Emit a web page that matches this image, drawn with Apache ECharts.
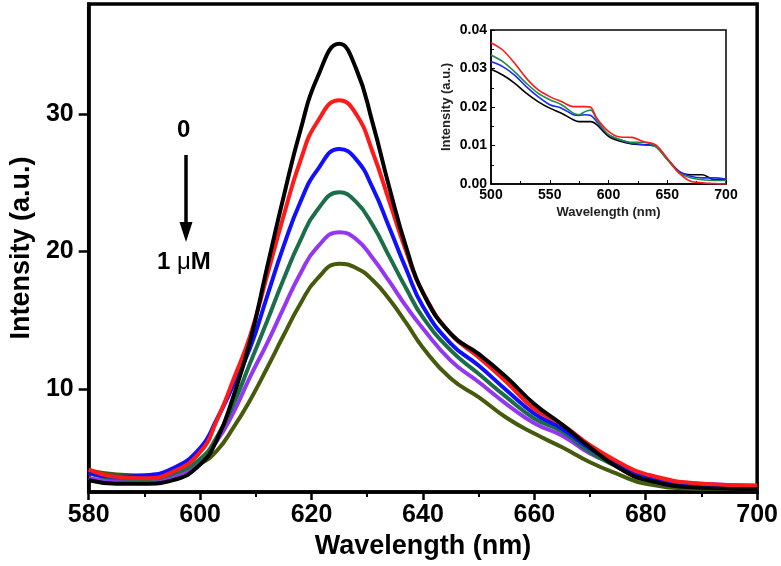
<!DOCTYPE html>
<html>
<head>
<meta charset="utf-8">
<script src="https://cdn.jsdelivr.net/npm/echarts@6/dist/echarts.min.js"></script>
<style>
  html, body { margin: 0; padding: 0; background: #fff; }
  #chart { width: 781px; height: 566px; }
</style>
</head>
<body>
<div id="chart"></div>
<script>
// main spectra (emission), one array per concentration
var wavelength = [580,585,590,595,600,603,606,609,612,615,618,621,625,628,631,634,637,640,645,650,655,660,665,670,675,680,690,700];
var black  = [3.35,3.1,3.1,3.35,4.5,6.3,9.5,13.5,18.8,24.0,28.8,32.6,35.1,33.3,29.3,24.6,20.3,17.0,14.0,12.55,10.85,8.9,7.4,5.75,4.3,3.4,2.8,2.7];
var red    = [4.15,3.6,3.5,3.95,5.4,7.7,10.7,13.9,18.2,22.6,26.6,29.4,31.0,30.0,27.2,23.6,20.0,17.0,14.0,12.3,10.5,8.55,7.4,5.9,4.7,3.8,3.1,2.95];
var blue   = [3.86,3.6,3.7,4.2,5.7,7.8,10.3,13.0,16.7,20.4,23.6,25.9,27.45,26.7,24.6,21.7,18.7,16.0,13.3,11.7,9.9,8.2,7.1,5.65,4.45,3.55,3.05,2.9];
var green  = [3.85,3.5,3.45,3.8,4.9,6.5,8.9,11.9,14.9,18.0,20.8,23.0,24.3,23.6,21.9,19.6,17.3,15.2,12.8,11.1,9.4,7.85,6.9,5.4,4.3,3.35,2.9,2.8];
var purple = [3.5,3.26,3.2,3.57,4.8,6.2,8.3,10.9,13.3,15.9,18.4,20.3,21.4,20.9,19.5,17.8,16.0,14.4,12.06,10.5,8.9,7.5,6.6,5.3,4.45,3.6,3.1,2.97];
var olive  = [4.06,3.77,3.7,3.82,4.55,5.5,7.2,9.2,11.5,13.9,16.2,18.0,19.1,18.8,17.9,16.5,14.8,13.0,10.75,9.4,7.9,6.75,5.75,4.66,3.8,3.1,2.73,2.7];
var yTicks = [10, 20, 30];

// inset (absorption)
var insetWave  = [500,510,520,530,540,550,560,570,575,580,585,590,600,610,620,630,640,650,660,670,680,690,700];
var inRed   = [.0367,.0348,.0314,.0275,.0245,.0227,.0214,.0201,.0201,.0201,.0199,.0171,.0137,.0122,.0121,.0110,.0102,.0067,.0029,.0007,.0003,.0001,.0000];
var inGreen = [.0335,.0318,.0292,.0262,.0236,.0219,.0206,.0184,.0180,.0188,.0192,.0167,.0128,.0115,.0108,.0108,.0098,.0063,.0029,.0016,.0011,.0009,.0009];
var inBlue  = [.0318,.0305,.0283,.0253,.0227,.0206,.0197,.0180,.0178,.0180,.0178,.0162,.0128,.0115,.0106,.0102,.0098,.0065,.0033,.0020,.0016,.0016,.0013];
var inBlack = [.0298,.0283,.0262,.0236,.0214,.0197,.0184,.0167,.0162,.0162,.0162,.0154,.0124,.0111,.0104,.0102,.0098,.0065,.0033,.0024,.0024,.0011,.0011];

var FONT = '"Liberation Sans", Arial, sans-serif';

function pairs(xs, ys) {
    var out = [];
    for (var i = 0; i < xs.length; i++) {
        out.push([xs[i], ys[i]]);
    }
    return out;
}

function mainLine(name, data, color) {
    return {
        name: name, type: 'line', xAxisIndex: 0, yAxisIndex: 0,
        data: pairs(wavelength, data), smooth: 0.5, symbol: 'none',
        lineStyle: { color: color, width: 4 }
    };
}

function insetLine(name, data, color) {
    return {
        name: name, type: 'line', xAxisIndex: 1, yAxisIndex: 1,
        data: pairs(insetWave, data), smooth: 0.3, symbol: 'none',
        lineStyle: { color: color, width: 1.6 }
    };
}

var chart = echarts.init(document.getElementById('chart'));

var option = {
    animation: false,
    backgroundColor: '#fff',
    grid: [
        { left: 87, right: 21, top: 4, bottom: 74, show: true, borderColor: '#000', borderWidth: 3.5 },
        { left: 491, top: 30, width: 235, height: 154, show: true, borderColor: '#000', borderWidth: 1.5, backgroundColor: '#fff' }
    ],
    xAxis: [
        {
            type: 'value', gridIndex: 0, min: 580, max: 700, interval: 20,
            name: 'Wavelength (nm)', nameLocation: 'middle', nameGap: 36,
            nameTextStyle: { fontFamily: FONT, fontWeight: 'bold', fontSize: 27, color: '#000' },
            axisLine: { lineStyle: { color: '#000', width: 3.5 } },
            axisTick: { length: 8, lineStyle: { color: '#000', width: 2.5 } },
            minorTick: { show: true, splitNumber: 2, length: 5, lineStyle: { color: '#000', width: 2 } },
            axisLabel: { fontFamily: FONT, fontWeight: 'bold', fontSize: 25, color: '#000', margin: 11 },
            splitLine: { show: false }
        },
        {
            type: 'value', gridIndex: 1, min: 500, max: 700, interval: 50,
            name: 'Wavelength (nm)', nameLocation: 'middle', nameGap: 22,
            nameTextStyle: { fontFamily: FONT, fontWeight: 'bold', fontSize: 13, color: '#222' },
            axisLine: { lineStyle: { color: '#000', width: 1.5 } },
            axisTick: { inside: true, length: 4, lineStyle: { color: '#000', width: 1 } },
            minorTick: { show: true, splitNumber: 2, length: 3, lineStyle: { color: '#000', width: 1 } },
            axisLabel: { fontFamily: FONT, fontWeight: 'bold', fontSize: 14, color: '#000', margin: 4 },
            splitLine: { show: false }
        }
    ],
    yAxis: [
        {
            type: 'value', gridIndex: 0, min: 2.5, max: 38,
            name: 'Intensity (a.u.)', nameLocation: 'middle', nameGap: 50,
            nameTextStyle: { fontFamily: FONT, fontWeight: 'bold', fontSize: 27, color: '#000' },
            axisLine: { lineStyle: { color: '#000', width: 3.5 } },
            axisTick: { customValues: yTicks, length: 10, lineStyle: { color: '#000', width: 2.5 } },
            axisLabel: { customValues: yTicks, fontFamily: FONT, fontWeight: 'bold', fontSize: 25, color: '#000', margin: 15 },
            splitLine: { show: false }
        },
        {
            type: 'value', gridIndex: 1, min: 0, max: 0.04, interval: 0.01,
            name: 'Intensity (a.u.)', nameLocation: 'middle', nameGap: 38,
            nameTextStyle: { fontFamily: FONT, fontWeight: 'bold', fontSize: 13, color: '#222' },
            axisLine: { lineStyle: { color: '#000', width: 1.5 } },
            axisTick: { inside: true, length: 4, lineStyle: { color: '#000', width: 1 } },
            minorTick: { show: true, splitNumber: 2, length: 3, lineStyle: { color: '#000', width: 1 } },
            axisLabel: {
                fontFamily: FONT, fontWeight: 'bold', fontSize: 14, color: '#000', margin: 4,
                formatter: function (v) { return v.toFixed(2); }
            },
            splitLine: { show: false }
        }
    ],
    series: [
        mainLine('1 μM', olive, '#465a0c'),
        mainLine('0.8', purple, '#9436f2'),
        mainLine('0.6', green, '#1b6e47'),
        mainLine('0.4', blue, '#1010ff'),
        mainLine('0.2', red, '#ff1a1a'),
        mainLine('0', black, '#000000'),
        insetLine('in black', inBlack, '#000000'),
        insetLine('in blue', inBlue, '#1a2bff'),
        insetLine('in green', inGreen, '#1f8a4c'),
        insetLine('in red', inRed, '#ff1a1a')
    ],
    graphic: [
        {
            type: 'text', left: 177, top: 118,
            style: { text: '0', fontFamily: FONT, fontWeight: 'bold', fontSize: 24, fill: '#000' }
        },
        {
            type: 'line', shape: { x1: 186, y1: 155, x2: 186, y2: 226 },
            style: { stroke: '#000', lineWidth: 3.5 }
        },
        {
            type: 'polygon', shape: { points: [[179.5, 222], [192.5, 222], [186, 242]] },
            style: { fill: '#000' }
        },
        {
            type: 'text', left: 157, top: 250,
            style: {
                text: '{b|1 }{m|μ}{b|M}',
                rich: {
                    b: { fontFamily: FONT, fontWeight: 'bold', fontSize: 24, fill: '#000' },
                    m: { fontFamily: FONT, fontWeight: 'normal', fontSize: 24, fill: '#000' }
                }
            }
        }
    ]
};

chart.setOption(option);
</script>
</body>
</html>
